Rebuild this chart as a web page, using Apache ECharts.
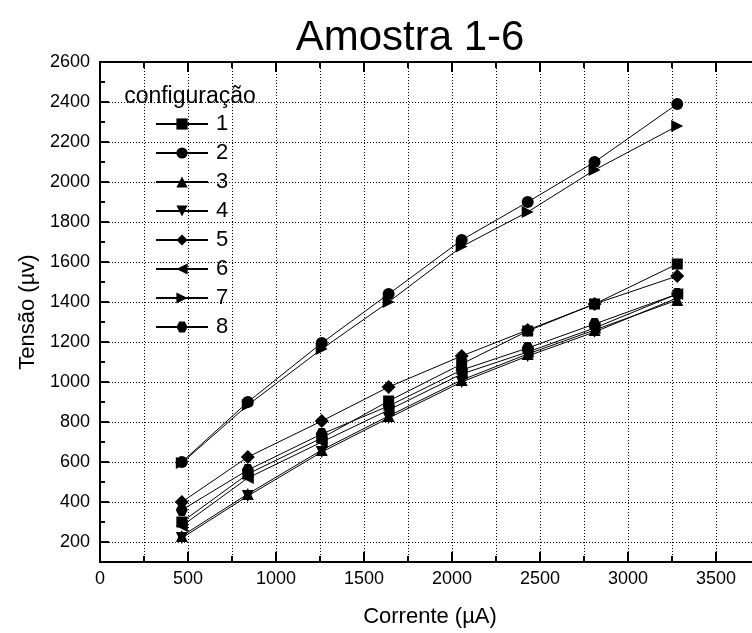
<!DOCTYPE html>
<html>
<head>
<meta charset="utf-8">
<script src="https://cdn.jsdelivr.net/npm/echarts@6/dist/echarts.min.js"></script>
<style>
html, body { margin: 0; padding: 0; background: #fff; }
#chart { width: 752px; height: 633px; }
</style>
</head>
<body>
<div id="chart"></div>
<script>
// Corrente (µA) applied for each measurement
const currents = [465, 840, 1260, 1640, 2055, 2430, 2810, 3280];

// Measured voltage (µV) for each contact configuration
const config1 = [300, 540, 720, 905, 1090, 1255, 1390, 1590];
const config2 = [600, 900, 1195, 1440, 1710, 1900, 2100, 2390];
const config3 = [230, 440, 660, 830, 1010, 1140, 1260, 1410];
const config4 = [220, 430, 650, 820, 1000, 1130, 1250, 1420];
const config5 = [400, 625, 805, 975, 1130, 1260, 1390, 1530];
const config6 = [280, 520, 700, 860, 1040, 1150, 1270, 1440];
const config7 = [595, 885, 1165, 1400, 1677, 1850, 2060, 2280];
const config8 = [360, 560, 740, 880, 1060, 1170, 1290, 1440];

const seriesNames = ['1', '2', '3', '4', '5', '6', '7', '8'];
const seriesValues = [config1, config2, config3, config4, config5, config6, config7, config8];

const FONT = "'Liberation Sans', Arial, Helvetica, sans-serif";
const HEXAGON = 'path://M-1,0 L-0.5,-0.866 L0.5,-0.866 L1,0 L0.5,0.866 L-0.5,0.866 Z';
const markers = [
  { symbol: 'rect', size: 11, rotate: 0 },
  { symbol: 'circle', size: 12, rotate: 0 },
  { symbol: 'triangle', size: 12, rotate: 0 },
  { symbol: 'triangle', size: 12, rotate: 180 },
  { symbol: 'diamond', size: 14, rotate: 0 },
  { symbol: 'triangle', size: 12, rotate: 90 },
  { symbol: 'triangle', size: 12, rotate: -90 },
  { symbol: HEXAGON, size: 12, rotate: 0 }
];

const dotted = { color: '#000', width: 1, type: [1, 2] };

const series = seriesNames.map((name, i) => ({
  name: name,
  type: 'line',
  xAxisIndex: 0,
  yAxisIndex: 0,
  data: currents.map((c, k) => [c, seriesValues[i][k]]),
  symbol: markers[i].symbol,
  symbolSize: markers[i].size,
  symbolRotate: markers[i].rotate,
  showAllSymbol: true,
  lineStyle: { color: '#000', width: 1 },
  itemStyle: { color: '#000' },
  emphasis: { disabled: true },
  animation: false,
  z: 3
}));

const chart = echarts.init(document.getElementById('chart'));
chart.setOption({
  animation: false,
  backgroundColor: '#fff',
  textStyle: { fontFamily: FONT },
  // the frame runs a little past the right edge of the canvas
  grid: { left: 100, top: 62, width: 660, bottom: 71, containLabel: false, outerBoundsMode: 'none' },
  graphic: [
    {
      type: 'text', x: 410, y: 38,
      style: { text: 'Amostra 1-6', font: '42px ' + FONT, fill: '#000', textAlign: 'center', textVerticalAlign: 'middle' }
    },
    {
      type: 'text', x: 190, y: 97,
      style: { text: 'configuração', font: '23px ' + FONT, fill: '#000', textAlign: 'center', textVerticalAlign: 'middle' },
      z: 10
    }
  ],
  legend: {
    orient: 'vertical',
    left: 155,
    top: 113,
    padding: 0,
    itemWidth: 52,
    itemHeight: 14,
    itemGap: 7,
    selectedMode: false,
    textStyle: { fontSize: 22, color: '#000', fontFamily: FONT, lineHeight: 22, padding: [0, 0, 0, 3] },
    data: seriesNames
  },
  xAxis: [
    {
      type: 'value', position: 'bottom', min: 0, max: 3750, interval: 500,
      name: 'Corrente (µA)', nameLocation: 'middle', nameGap: 44,
      nameTextStyle: { fontSize: 22, color: '#000', fontFamily: FONT },
      axisLine: { show: true, onZero: false, lineStyle: { color: '#000', width: 2 } },
      axisTick: { show: true, inside: true, length: 10, lineStyle: { color: '#000', width: 2 } },
      minorTick: { show: true, splitNumber: 2, length: 6, lineStyle: { color: '#000', width: 2 } },
      axisLabel: { fontSize: 18, color: '#000', margin: 8, fontFamily: FONT, showMaxLabel: false, formatter: v => String(v) },
      splitLine: { show: true, lineStyle: dotted },
      minorSplitLine: { show: true, lineStyle: dotted }
    },
    {
      type: 'value', position: 'top', min: 0, max: 3750, interval: 500,
      axisLine: { show: true, onZero: false, lineStyle: { color: '#000', width: 2 } },
      axisTick: { show: true, inside: true, length: 10, lineStyle: { color: '#000', width: 2 } },
      minorTick: { show: true, splitNumber: 2, length: 6, lineStyle: { color: '#000', width: 2 } },
      axisLabel: { show: false },
      splitLine: { show: false }
    }
  ],
  yAxis: [
    {
      type: 'value', position: 'left', min: 100, max: 2600, interval: 100,
      name: 'Tensão (µv)', nameLocation: 'middle', nameGap: 55, nameRotate: 90,
      nameTextStyle: { fontSize: 22, color: '#000', fontFamily: FONT },
      axisLine: { show: true, onZero: false, lineStyle: { color: '#000', width: 2 } },
      axisTick: { show: true, inside: true, length: 5, lineStyle: { color: '#000', width: 2 } },
      axisLabel: {
        fontSize: 18, color: '#000', margin: 10, fontFamily: FONT,
        formatter: v => (v % 200 === 0 ? String(v) : '')
      },
      splitLine: { show: false }
    },
    {
      type: 'value', position: 'left', min: 100, max: 2600, splitNumber: 12,
      axisLine: { show: false },
      axisTick: { show: true, inside: true, length: 9, lineStyle: { color: '#000', width: 2 } },
      axisLabel: { show: false },
      splitLine: { show: true, lineStyle: dotted }
    }
  ],
  series: series
});
</script>
</body>
</html>
